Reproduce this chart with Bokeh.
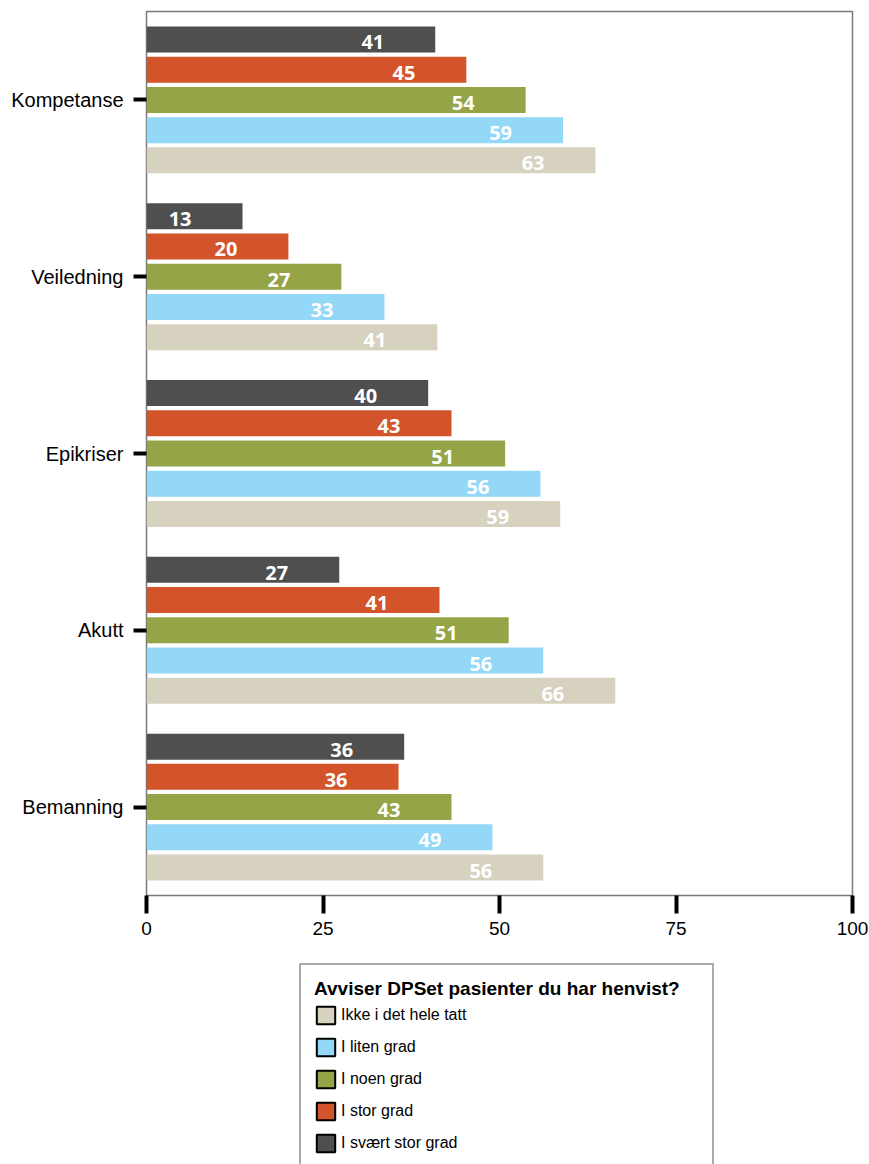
from bokeh.plotting import figure
from bokeh.models import (ColumnDataSource, Range1d, FixedTicker, Legend, LegendItem)
from bokeh.layouts import column
from bokeh.core.properties import value
from bokeh.embed import file_html
from bokeh.resources import INLINE

# ---------------- data ----------------
categories = ["Kompetanse", "Veiledning", "Epikriser", "Akutt", "Bemanning"]

series_names = ["Ikke i det hele tatt", "I liten grad", "I noen grad", "I stor grad", "I svært stor grad"]
series_colors = ["#d7d1bf", "#93d8f6", "#94a446", "#d3532a", "#4f4f4f"]

ikke_hele_tatt = [63.6, 41.2, 58.6, 66.4, 56.2]
liten_grad = [59.0, 33.7, 55.8, 56.2, 49.0]
noen_grad = [53.7, 27.6, 50.8, 51.3, 43.2]
stor_grad = [45.3, 20.1, 43.2, 41.5, 35.7]
svaert_stor_grad = [40.9, 13.6, 39.9, 27.3, 36.5]

labels_ikke = ["63", "41", "59", "66", "56"]
labels_liten = ["59", "33", "56", "56", "49"]
labels_noen = ["54", "27", "51", "51", "43"]
labels_stor = ["45", "20", "43", "41", "36"]
labels_svaert = ["41", "13", "40", "27", "36"]

x_ticks = [0, 25, 50, 75, 100]
legend_title = "Avviser DPSet pasienter du har henvist?"

series_values = [ikke_hele_tatt, liten_grad, noen_grad, stor_grad, svaert_stor_grad]
series_labels = [labels_ikke, labels_liten, labels_noen, labels_stor, labels_svaert]

# ---------------- main figure ----------------
p = figure(
    width=869, height=950,
    min_border_left=146, min_border_right=17, min_border_top=11, min_border_bottom=55,
    x_range=Range1d(0, 100), y_range=Range1d(5, 0),
    output_backend="svg", toolbar_location=None,
)
p.background_fill_color = "white"
p.border_fill_color = "white"
p.outline_line_color = "#7a7a7a"
p.outline_line_width = 1.5
p.xgrid.visible = False
p.ygrid.visible = False

pitch = 0.171
bar_h = 0.147
n = len(series_values)

# ---------------- legend figure ----------------
p2 = figure(
    width=869, height=214, min_border=0,
    x_range=Range1d(0, 1), y_range=Range1d(0, 1),
    x_axis_location=None, y_axis_location=None,
    output_backend="svg", toolbar_location=None,
)
p2.outline_line_color = None
p2.xgrid.visible = False
p2.ygrid.visible = False
p2.background_fill_color = "white"
p2.border_fill_color = "white"

legend_items = []
for s, (vals, labs, col, name) in enumerate(zip(series_values, series_labels, series_colors, series_names)):
    offset = (n // 2 - s) * pitch  # beige at bottom, dark at top
    ys = [i + 0.5 + offset for i in range(len(categories))]
    src = ColumnDataSource(dict(y=ys, right=vals, lab=labs))
    p.hbar(y="y", left=0, right="right", height=bar_h, source=src,
           fill_color=col, line_color=None)
    p.text(x="right", y="y", text="lab", source=src, text_color="white",
           text_font=value("Open Sans"), text_font_style="bold", text_font_size="20px",
           text_align="right", text_baseline="middle", x_offset=-51, y_offset=3)
    # legend-only swatch renderer (hidden; only its style is used by the legend)
    dummy = p2.hbar(y=[5], left=[5], right=[6], height=0.1, fill_color=col,
                    line_color="black", line_width=2, visible=False)
    legend_items.append(LegendItem(label=name, renderers=[dummy]))

# axes
xa = p.xaxis[0]
xa.ticker = FixedTicker(ticks=x_ticks)
xa.axis_line_color = None
xa.major_tick_line_color = "black"
xa.major_tick_line_width = 4
xa.major_tick_out = 18
xa.major_tick_in = 0
xa.minor_tick_line_color = None
xa.major_label_standoff = 8
xa.major_label_text_font = "Liberation Sans"
xa.major_label_text_font_size = "19px"
xa.major_label_text_color = "black"

ya = p.yaxis[0]
ya.ticker = FixedTicker(ticks=[i + 0.5 for i in range(len(categories))])
ya.major_label_overrides = {i + 0.5: c for i, c in enumerate(categories)}
ya.axis_line_color = None
ya.major_tick_line_color = "black"
ya.major_tick_line_width = 4
ya.major_tick_out = 13
ya.major_tick_in = 0
ya.minor_tick_line_color = None
ya.major_label_standoff = 10
ya.major_label_text_font = "Liberation Sans"
ya.major_label_text_font_size = "20px"
ya.major_label_text_color = "black"

legend = Legend(
    items=legend_items, location=(153, -5),
    title=legend_title,
    title_text_font="Liberation Sans", title_text_font_style="bold",
    title_text_font_size="19px", title_text_color="black", title_standoff=4,
    label_text_font="Liberation Sans", label_text_font_size="16px",
    label_text_color="black",
    glyph_width=23, glyph_height=22, label_height=22, label_standoff=4,
    label_width=358, spacing=10, padding=13, margin=0,
    border_line_color="#555555", border_line_width=2,
    background_fill_color="white", background_fill_alpha=1.0,
)
p2.add_layout(legend, "center")

layout = column(p, p2, spacing=0)
open("out.html", "w").write(file_html(layout, INLINE))
